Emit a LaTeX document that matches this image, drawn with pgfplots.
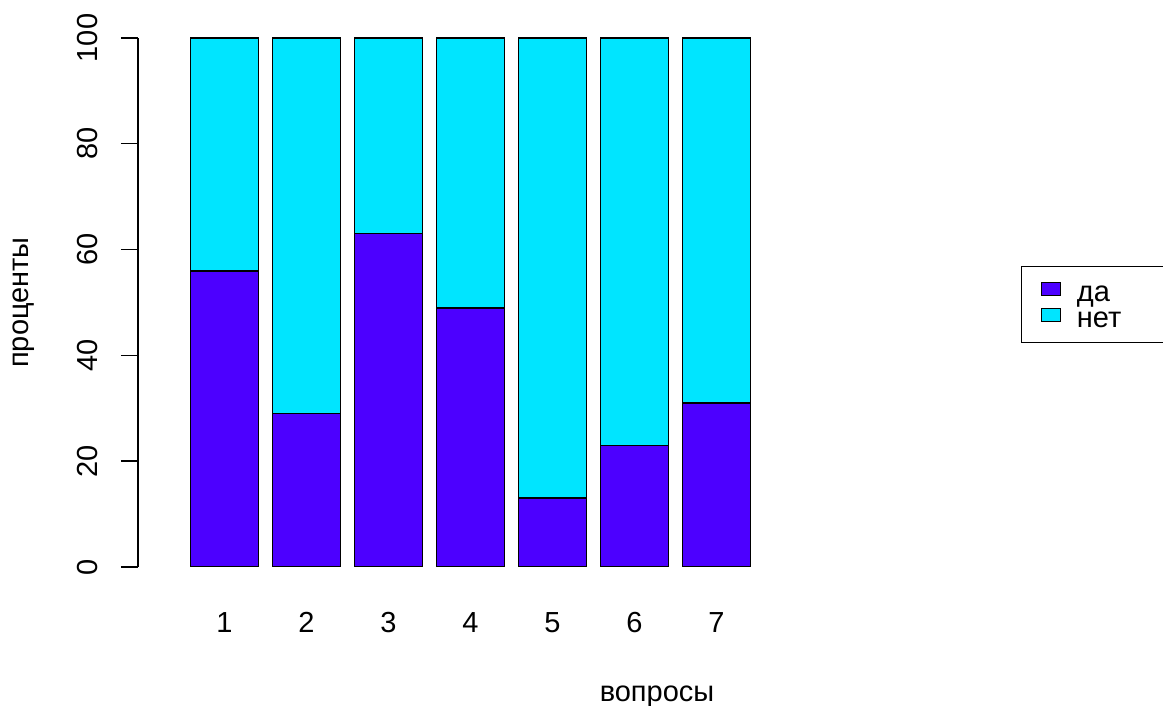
\documentclass[border=0pt]{standalone}
\usepackage{fontspec}
\setmainfont{Liberation Sans}
\usepackage{pgfplots}
\pgfplotsset{compat=1.18}
\definecolor{da}{HTML}{4C00FF}
\definecolor{net}{HTML}{00E5FF}
\pgfplotstableread{
q da net
1 56 44
2 29 71
3 63 37
4 49 51
5 13 87
6 23 77
7 31 69
}\datatable
\begin{document}
\begin{tikzpicture}
\useasboundingbox (0,0) rectangle (581.5pt,353pt);
\begin{axis}[
  at={(69pt,69.5pt)}, anchor=south west,
  scale only axis, width=330.25pt, height=264.5pt,
  xmin=-0.055, xmax=8, ymin=0, ymax=100,
  enlargelimits=false,
  ybar stacked, bar width=0.83,
  axis lines=left,
  x axis line style={draw=none},
  y axis line style={-, line width=0.7pt},
  xtick={1,...,7}, ytick={0,20,...,100},
  tick align=outside, major tick length=8.5pt,
  xtick style={draw=none},
  ytick style={line width=0.7pt, black},
  tick label style={font=\fontsize{14.5}{17}\selectfont},
  /pgf/number format/assume math mode=true,
  yticklabel style={rotate=90, anchor=south, inner ysep=11.5pt},
  xticklabel style={anchor=base, yshift=-24.5pt},
  xlabel={вопросы}, ylabel={проценты},
  every axis x label/.style={at={(axis description cs:0.7858,-0.2552)}, anchor=base, font=\fontsize{14.5}{17}\selectfont},
  every axis y label/.style={at={(axis description cs:-0.1665,0.5)}, rotate=90, anchor=base, font=\fontsize{14.5}{17}\selectfont},
  legend style={at={(axis description cs:1.3369,0.569)}, anchor=north west, draw=black, line width=0.7pt,
    font=\fontsize{14.5}{17}\selectfont, inner xsep=9.5pt, inner ysep=6pt, row sep=0pt, column sep=6pt,
    nodes={text width=52pt, text height=11.5pt, text depth=1.5pt, inner ysep=0pt}},
  legend cell align=left,
]
\addplot+[fill=da, draw=black, line width=0.75pt,
  legend image code/.code={\draw[fill=da, draw=black, line width=0.6pt] (0pt,-2pt) rectangle (9.5pt,4.5pt);}]
  table[x=q, y=da] {\datatable};
\addplot+[fill=net, draw=black, line width=0.75pt,
  legend image code/.code={\draw[fill=net, draw=black, line width=0.6pt] (0pt,-2pt) rectangle (9.5pt,4.5pt);}]
  table[x=q, y=net] {\datatable};
\legend{да, нет}
\end{axis}
\end{tikzpicture}
\end{document}
